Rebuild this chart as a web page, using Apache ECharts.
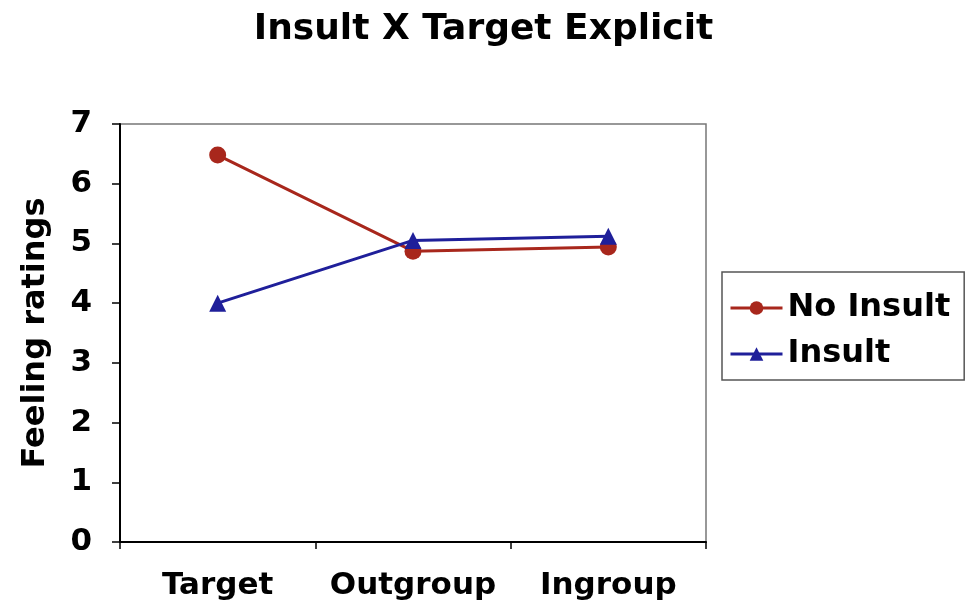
<!DOCTYPE html>
<html>
<head>
<meta charset="utf-8">
<script src="https://cdn.jsdelivr.net/npm/echarts@6/dist/echarts.min.js"></script>
<style>
  html, body { margin: 0; padding: 0; background: #fff; }
  #chart { width: 967px; height: 614px; }
</style>
</head>
<body>
<div id="chart"></div>
<script>
// categories and ratings
const categories = ['Target', 'Outgroup', 'Ingroup'];
const noInsult = [6.48, 4.87, 4.94];
const insult = [4.0, 5.05, 5.12];
const yTicks = [0, 1, 2, 3, 4, 5, 6, 7];

const myChart = echarts.init(document.getElementById('chart'));
const font = 'DejaVu Sans, Verdana, sans-serif';

const options = {
    animation: false,
    title: {
        text: 'Insult X Target Explicit',
        left: 'center',
        top: 7,
        textStyle: { fontFamily: font, fontWeight: 'bold', fontSize: 36, color: '#000' }
    },
    grid: {
        left: 120,
        top: 124,
        width: 586,
        height: 418,
        show: true,
        borderColor: '#777',
        borderWidth: 1.5
    },
    legend: {
        orient: 'vertical',
        left: 722,
        top: 272,
        padding: [18, 14, 8, 7],
        itemGap: 10,
        itemWidth: 52,
        itemHeight: 17,
        borderColor: '#555',
        borderWidth: 1.5,
        lineStyle: { width: 3 },
        textStyle: { fontFamily: font, fontWeight: 'bold', fontSize: 32, lineHeight: 36, color: '#000' },
        data: ['No Insult', 'Insult']
    },
    xAxis: {
        type: 'category',
        data: categories,
        boundaryGap: true,
        axisLine: { lineStyle: { color: '#000', width: 2 } },
        axisTick: { show: true, interval: 0, length: 7, lineStyle: { color: '#000', width: 1.5 } },
        axisLabel: { interval: 0, hideOverlap: false, margin: 28, fontFamily: font, fontWeight: 'bold', fontSize: 31, color: '#000' }
    },
    yAxis: {
        type: 'value',
        min: yTicks[0],
        max: yTicks[yTicks.length - 1],
        interval: 1,
        name: 'Feeling ratings',
        nameLocation: 'middle',
        nameGap: 68,
        nameTextStyle: { fontFamily: font, fontWeight: 'bold', fontSize: 32, color: '#000' },
        axisLine: { show: true, lineStyle: { color: '#000', width: 2 } },
        axisTick: { show: true, length: 8, lineStyle: { color: '#000', width: 1.5 } },
        axisLabel: { margin: 28, fontFamily: font, fontWeight: 'bold', fontSize: 31, color: '#000' },
        splitLine: { show: false }
    },
    series: [
        {
            name: 'No Insult',
            type: 'line',
            data: noInsult,
            symbol: 'circle',
            symbolSize: 17,
            lineStyle: { color: '#a8271c', width: 3 },
            itemStyle: { color: '#a8271c' }
        },
        {
            name: 'Insult',
            type: 'line',
            data: insult,
            symbol: 'triangle',
            symbolSize: 17,
            lineStyle: { color: '#1f1f9a', width: 3 },
            itemStyle: { color: '#1f1f9a' }
        }
    ]
};

myChart.setOption(options);
</script>
</body>
</html>
